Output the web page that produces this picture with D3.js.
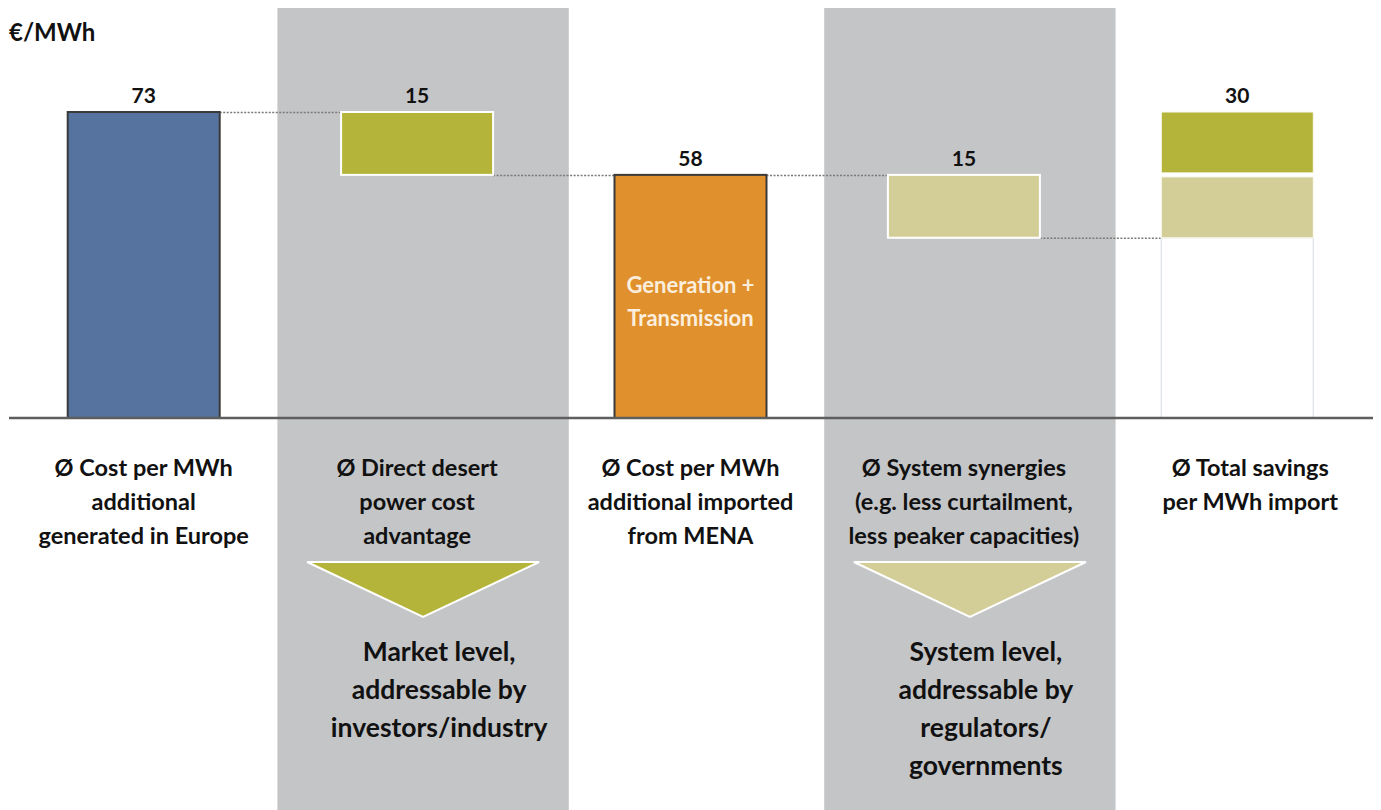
<!DOCTYPE html>
<html>
<head>
<meta charset="utf-8">
<script src="https://cdn.jsdelivr.net/npm/d3@7"></script>
<style>
  body { margin: 0; background: #fff; }
  svg { display: block; font-family: Lato, "Open Sans", sans-serif; font-weight: bold; }
</style>
</head>
<body>
<div id="canva"></div>
<script>
// waterfall data
const categories = ["europe", "desert", "mena", "synergies", "total"];
const values = [73, 15, 58, 15, 30];
const kinds = ["total", "down", "total", "down", "savings"];
const barColors = ["#56739f", "#b5b43a", "#e0902c", "#d3cd98", null];
const labels = [
    ["Ø Cost per MWh", "additional", "generated in Europe"],
    ["Ø Direct desert", "power cost", "advantage"],
    ["Ø Cost per MWh", "additional imported", "from MENA"],
    ["Ø System synergies", "(e.g. less curtailment,", "less peaker capacities)"],
    ["Ø Total savings", "per MWh import"]
];
const shaded = ["desert", "synergies"];
const levelNotes = [
    ["Market level,", "addressable by", "investors/industry"],
    ["System level,", "addressable by", "regulators/", "governments"]
];

const width = 1381;
const height = 810;
const baseY = 418;

const svg = d3.select("#canva").append("svg")
    .attr("width", width)
    .attr("height", height);

const x = d3.scaleBand()
    .domain(categories)
    .range([7, 1374])
    .padding(0);

const y = d3.scaleLinear()
    .domain([0, 73])
    .range([baseY, 112]);

const barW = 152;
const barX = c => x(c) + (x.bandwidth() - barW) / 2;

// compute waterfall segments
let running = 0;
const segs = [];
values.forEach((v, i) => {
    const c = categories[i];
    if (kinds[i] === "total") {
        segs.push({c, top: v, bottom: 0, color: barColors[i], stroke: "#3a3a3a"});
        running = v;
    } else if (kinds[i] === "down") {
        segs.push({c, top: running, bottom: running - v, color: barColors[i], stroke: "#fff"});
        running = running - v;
    }
});

// gray background columns
svg.append("g")
    .selectAll("rect")
    .data(shaded)
    .join("rect")
        .attr("x", d => x(d) - 3)
        .attr("y", 8)
        .attr("width", x.bandwidth() + 18)
        .attr("height", height - 8)
        .attr("fill", "#c4c5c7");

// connectors
const conn = [];
for (let i = 0; i < segs.length - 1; i++) {
    const a = segs[i], b = segs[i + 1];
    const lvl = kinds[i] === "total" ? a.top : a.bottom;
    conn.push({x1: barX(a.c) + barW, x2: barX(b.c), v: lvl});
}
conn.push({x1: barX("synergies") + barW, x2: barX("total"), v: running});

svg.append("g")
    .selectAll("line")
    .data(conn)
    .join("line")
        .attr("x1", d => d.x1)
        .attr("x2", d => d.x2)
        .attr("y1", d => y(d.v) + 0.5)
        .attr("y2", d => y(d.v) + 0.5)
        .attr("stroke", "#7a7a7a")
        .attr("stroke-width", 1.5)
        .attr("stroke-dasharray", "2,1.5");

// total savings bar: outline + stacked parts
const totalStart = running;
svg.append("rect")
    .attr("x", barX("total"))
    .attr("y", y(totalStart))
    .attr("width", barW)
    .attr("height", baseY - y(totalStart))
    .attr("fill", "#fff")
    .attr("stroke", "#e3e6ea")
    .attr("stroke-width", 1.5);

const savingParts = [
    {top: 73, bottom: 73 - values[1], color: barColors[1]},
    {top: 73 - values[1], bottom: totalStart, color: barColors[3]}
];
svg.append("g")
    .selectAll("rect")
    .data(savingParts)
    .join("rect")
        .attr("x", barX("total"))
        .attr("y", (d, i) => y(d.top) + (i ? 2 : 0))
        .attr("width", barW)
        .attr("height", d => y(d.bottom) - y(d.top) - 2)
        .attr("fill", d => d.color)
        .attr("stroke", "#fbfbf2")
        .attr("stroke-width", 1);

// main bars
svg.append("g")
    .selectAll("rect")
    .data(segs)
    .join("rect")
        .attr("x", d => barX(d.c))
        .attr("y", d => y(d.top))
        .attr("width", barW)
        .attr("height", d => y(d.bottom) - y(d.top))
        .attr("fill", d => d.color)
        .attr("stroke", d => d.stroke)
        .attr("stroke-width", 2);

// value labels
svg.append("g")
    .selectAll("text")
    .data(values)
    .join("text")
        .attr("x", (d, i) => barX(categories[i]) + barW / 2)
        .attr("y", (d, i) => y(segs[i] ? segs[i].top : 73) - 9)
        .attr("text-anchor", "middle")
        .attr("font-size", "21px")
        .attr("fill", "#111")
        .text(d => d);

// axis baseline
svg.append("line")
    .attr("x1", 9).attr("x2", 1373)
    .attr("y1", baseY).attr("y2", baseY)
    .attr("stroke", "#5e5e5e")
    .attr("stroke-width", 2.5);

// unit
svg.append("text")
    .attr("x", 9)
    .attr("y", 41)
    .attr("font-size", "24px")
    .attr("fill", "#111")
    .text("€/MWh");

// text inside orange bar
const inner = svg.append("text")
    .attr("text-anchor", "middle")
    .attr("font-size", "22px")
    .attr("fill", "#fbeedd");
["Generation +", "Transmission"].forEach((t, i) => {
    inner.append("tspan")
        .attr("x", barX("mena") + barW / 2)
        .attr("y", 293 + i * 33)
        .text(t);
});

// category labels
const labelShift = [0, 0, 0, 0, 13];
labels.forEach((lines, i) => {
    const t = svg.append("text")
        .attr("text-anchor", "middle")
        .attr("font-size", "23.5px")
        .attr("fill", "#111");
    lines.forEach((line, j) => {
        t.append("tspan")
            .attr("x", barX(categories[i]) + barW / 2 + labelShift[i])
            .attr("y", 476 + j * 34)
            .text(line);
    });
});

// triangles + level notes
shaded.forEach((c, i) => {
    const cx = x(c) + x.bandwidth() / 2 + 6;
    const col = barColors[categories.indexOf(c)];
    svg.append("path")
        .attr("d", `M${cx - 116},562 L${cx + 116},562 L${cx},617 Z`)
        .attr("fill", col)
        .attr("stroke", "#fff")
        .attr("stroke-width", 2);

    const t = svg.append("text")
        .attr("text-anchor", "middle")
        .attr("font-size", "26.5px")
        .attr("fill", "#111");
    levelNotes[i].forEach((line, j) => {
        t.append("tspan")
            .attr("x", cx + 16)
            .attr("y", 661 + j * 38)
            .text(line);
    });
});
</script>
</body>
</html>
